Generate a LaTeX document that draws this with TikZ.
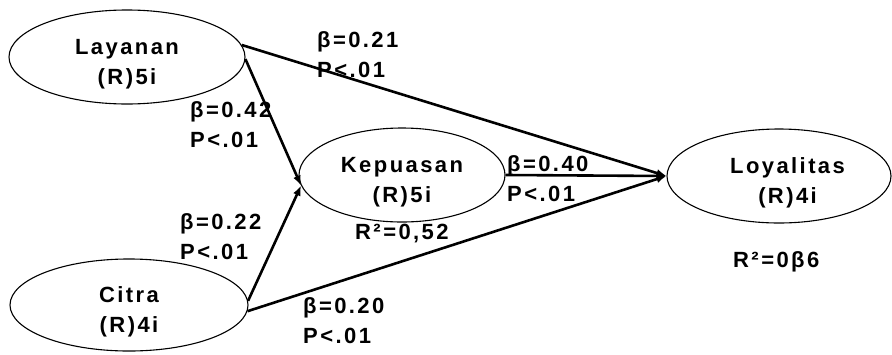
\documentclass[tikz,border=0pt]{standalone}
\usepackage{fontspec}
\newfontfamily\labfont{Liberation Sans Bold}[LetterSpace=11]
\usetikzlibrary{shapes.geometric,arrows.meta}
\newcommand{\lowstrut}{\rule{0pt}{30pt}}
\begin{document}
\begin{tikzpicture}[x=1pt,y=-1pt,
  every node/.style={font=\labfont\fontsize{22}{30.5}\selectfont},
  latent/.style={ellipse,draw,line width=1.1pt,align=center,inner sep=0pt},
  lab/.style={anchor=north west,inner sep=0pt,align=left},
  path/.style={line width=2.6pt,-{Latex[length=10pt,width=8pt]}}]
\useasboundingbox (0,0) rectangle (892,354);
\node[latent,minimum width=236pt,minimum height=94pt] (lay) at (127,57) {\lowstrut Layanan\\(R)5i};
\node[latent,minimum width=238pt,minimum height=90pt] (cit) at (129,305) {\lowstrut Citra\\(R)4i};
\node[latent,minimum width=206pt,minimum height=94pt] (kep) at (402,175) {\lowstrut Kepuasan\\(R)5i};
\node[latent,minimum width=224pt,minimum height=94pt] (loy) at (779,176) {\lowstrut\ \ Loyalitas\\\ \ (R)4i};
\draw[path] (lay.6) -- (loy.west);
\draw[path] (lay.-1) -- (kep.186);
\draw[path] (cit.2) -- (kep.186);
\draw[path] (cit.-3) -- (loy.west);
\draw[path] (kep.east) -- (loy.west);
\node[lab] (l1) at (317,31) {β=0.21\\P<.01};
\node[lab] (l2) at (190,101) {β=0.42\\P<.01};
\node[lab] (l3) at (180,213) {β=0.22\\P<.01};
\node[lab] (l4) at (355,224) {R²=0,52};
\node[lab] (l5) at (303,297) {β=0.20\\P<.01};
\node[lab] (l6) at (507,155) {β=0.40\\P<.01};
\node[lab] (l7) at (733,251) {R²=0β6};
\end{tikzpicture}
\end{document}
